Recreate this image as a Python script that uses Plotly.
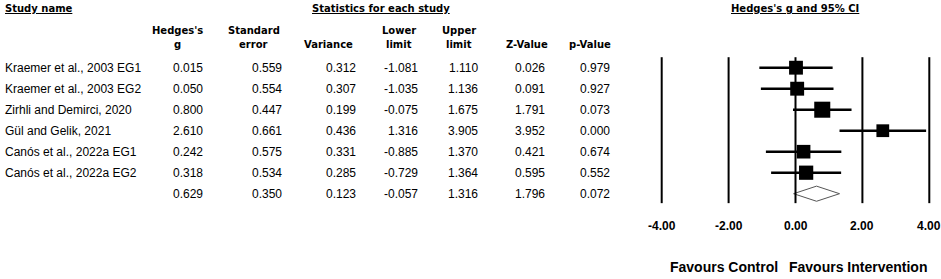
import plotly.graph_objects as go

# ---------------- data ----------------
studies = ["Kraemer et al., 2003 EG1", "Kraemer et al., 2003 EG2",
           "Zirhli and Demirci, 2020", "Gül and Gelik, 2021",
           "Canós et al., 2022a EG1", "Canós et al., 2022a EG2", ""]
hedges_g = [0.015, 0.050, 0.800, 2.610, 0.242, 0.318, 0.629]
std_err = [0.559, 0.554, 0.447, 0.661, 0.575, 0.534, 0.350]
variance = [0.312, 0.307, 0.199, 0.436, 0.331, 0.285, 0.123]
lower = [-1.081, -1.035, -0.075, 1.316, -0.885, -0.729, -0.057]
upper = [1.110, 1.136, 1.675, 3.905, 1.370, 1.364, 1.316]
z_value = [0.026, 0.091, 1.791, 3.952, 0.421, 0.595, 1.796]
p_value = [0.979, 0.927, 0.073, 0.000, 0.674, 0.552, 0.072]
tick_vals = [-4, -2, 0, 2, 4]

W, H = 941, 279
ROW0, ROWH = 67.7, 21.0  # pixel centre of first row, row height


def px(x):
    return x / W


def py(y):
    return 1 - y / H


n_st = len(studies) - 1  # last row is summary
rows = list(range(len(studies)))

DATA_FONT = dict(family="Liberation Sans, Arial", size=12, color="black")
HEAD_FONT = dict(family="DejaVu Sans, Verdana", size=10, color="black")

fig = go.Figure()

# vertical reference lines
for t in tick_vals:
    fig.add_shape(type="line", xref="x", yref="y", x0=t, x1=t, y0=-0.5, y1=6.45,
                  line=dict(color="black", width=2))

# CI lines
xs, ys = [], []
for i in range(n_st):
    xs += [lower[i], upper[i], None]
    ys += [i, i, None]
fig.add_trace(go.Scatter(x=xs, y=ys, mode="lines", line=dict(color="black", width=2.5),
                         hoverinfo="skip", showlegend=False))

# squares sized by weight
weights = [1 / v for v in variance[:n_st]]
sizes = [10 + 1.2 * w for w in weights]
fig.add_trace(go.Scatter(x=hedges_g[:n_st], y=rows[:n_st], mode="markers",
                         marker=dict(symbol="square", size=sizes, color="black",
                                     opacity=1, line=dict(width=0)),
                         showlegend=False))

# summary diamond
s = n_st
dh = 0.36
fig.add_trace(go.Scatter(x=[lower[s], hedges_g[s], upper[s], hedges_g[s], lower[s]],
                         y=[s, s - dh, s, s + dh, s], mode="lines", fill="toself",
                         fillcolor="white", line=dict(color="#555555", width=1),
                         showlegend=False))

ann = []
# study names and values
cols = [(hedges_g, 205), (std_err, 284), (variance, 358), (lower, 420),
        (upper, 480), (z_value, 547), (p_value, 612)]
for i in rows:
    if studies[i]:
        ann.append(dict(x=px(3), xref="paper", y=i, yref="y", text=studies[i],
                        xanchor="left", yanchor="middle", showarrow=False, font=DATA_FONT))
    for arr, xr in cols:
        ann.append(dict(x=px(xr), xref="paper", y=i, yref="y", text=f"{arr[i]:.3f}",
                        xanchor="right", yanchor="middle", showarrow=False, font=DATA_FONT))

# headers
heads = [("<u>Study name</u>", 3, 8, "left"),
         ("<u>Statistics for each study</u>", 381, 8, "center"),
         ("<u>Hedges's g and 95% CI</u>", 795, 8, "center"),
         ("Hedges's", 177, 30, "center"), ("g", 177, 45, "center"),
         ("Standard", 254, 30, "center"), ("error", 254, 45, "center"),
         ("Variance", 328, 45, "center"),
         ("Lower", 399, 30, "center"), ("limit", 399, 45, "center"),
         ("Upper", 459, 30, "center"), ("limit", 459, 45, "center"),
         ("Z-Value", 527, 45, "center"), ("p-Value", 590, 45, "center")]
for t, x, y, a in heads:
    ann.append(dict(x=px(x), xref="paper", y=py(y), yref="paper", text=f"<b>{t}</b>",
                    xanchor=a, yanchor="middle", showarrow=False, font=HEAD_FONT))

# tick labels
for t in tick_vals:
    ann.append(dict(x=t, xref="x", y=py(226), yref="paper", text=f"<b>{t:.2f}</b>",
                    xanchor="center", yanchor="middle", showarrow=False,
                    font=dict(family="Liberation Sans, Arial", size=12, color="black")))

# favours labels
FAV_FONT = dict(family="Liberation Sans, Arial", size=14, color="black")
ann.append(dict(x=px(724), xref="paper", y=py(267), yref="paper", text="<b>Favours Control</b>",
                xanchor="center", yanchor="middle", showarrow=False, font=FAV_FONT))
ann.append(dict(x=px(857.5), xref="paper", y=py(267), yref="paper", text="<b>Favours Intervention</b>",
                xanchor="center", yanchor="middle", showarrow=False, font=FAV_FONT))

x0p, x1p = 661.7, 929.3
scale = (x1p - x0p) / 8
fig.update_layout(
    width=W, height=H, margin=dict(l=0, r=0, t=0, b=0),
    paper_bgcolor="white", plot_bgcolor="white",
    xaxis=dict(range=[-4.2, 4.2], domain=[px(x0p - 0.2 * scale), px(x1p + 0.2 * scale)],
               showgrid=False, zeroline=False, showticklabels=False, showline=False, ticks=""),
    yaxis=dict(range=[(H - ROW0) / ROWH, -ROW0 / ROWH], domain=[0, 1],
               showgrid=False, zeroline=False, showticklabels=False, showline=False, ticks=""),
    annotations=ann, showlegend=False,
)

fig.write_html("out.html", config={"displayModeBar": False},
               post_script="document.body.style.margin='0';document.body.style.overflow='hidden';")
